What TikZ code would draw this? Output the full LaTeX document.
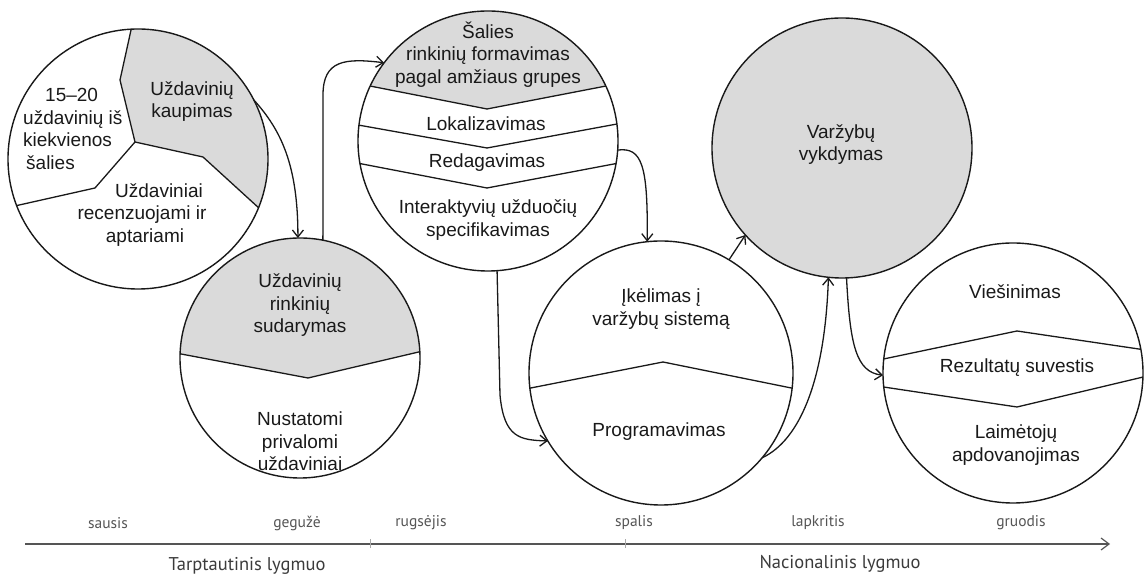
\documentclass[tikz,border=0pt]{standalone}
\usepackage{fontspec}
\setmainfont{Liberation Sans}
\newfontfamily\axisfont{PT Sans}
\usetikzlibrary{calc,arrows.meta}
\definecolor{fillgray}{RGB}{218,218,218}
\definecolor{inkc}{RGB}{25,25,25}
\definecolor{axisgray}{RGB}{85,85,85}
\begin{document}
\begin{tikzpicture}[x=1pt,y=1pt,
  ring/.style={circle, draw=inkc, line width=1.4pt, inner sep=0pt, outer sep=0pt, minimum size=#1},
  divider/.style={draw=inkc, line width=1.3pt, line join=round},
  lbl/.style={align=center, text=inkc, inner sep=0pt, font=\fontsize{19}{22.5}\selectfont},
  conn/.style={draw=inkc, line width=1.3pt, -{Straight Barb[length=7pt,width=11pt]}},
  month/.style={text=axisgray, inner sep=0pt, font=\axisfont\fontsize{15.5}{17}\selectfont},
  level/.style={text=inkc!85, inner sep=0pt, font=\axisfont\fontsize{18.5}{20}\selectfont},
  axisline/.style={draw=axisgray, line width=1.2pt, -{Straight Barb[length=8pt,width=12pt]}},
  tickmark/.style={draw=axisgray!50, line width=0.8pt}]

\useasboundingbox (0,0) rectangle (1144,580);

\coordinate (C1) at (138,421);
\coordinate (C2) at (300,222);
\coordinate (C3) at (488,439);
\coordinate (C4) at (661,207);
\coordinate (C5) at (842,432);
\coordinate (C6) at (1013,207);

% gray fills
\fill[fillgray] (135,438) -- (120,500) -- ($(C1)+(93:130)$) arc[start angle=93, end angle=-22, radius=130] -- (203,423) -- cycle;
\fill[fillgray] ($(C2)+(178:120)$) arc[start angle=178, end angle=3, radius=120] -- (308,202) -- cycle;
\fill[fillgray] ($(C3)+(155:130)$) arc[start angle=155, end angle=25, radius=130] -- (487,471) -- cycle;
\fill[fillgray] (C5) circle[radius=130];

% dividers
\draw[divider] ($(C1)+(93:130)$) -- (120,500) -- (135,438) -- (203,423) -- ($(C1)+(-22:130)$);
\draw[divider] (135,438) -- (95,392) -- ($(C1)+(201:130)$);
\draw[divider] ($(C2)+(178:120)$) -- (308,202) -- ($(C2)+(3:120)$);
\draw[divider] ($(C3)+(155:130)$) -- (487,471) -- ($(C3)+(25:130)$);
\draw[divider] ($(C3)+(173:130)$) -- (487,432) -- ($(C3)+(7.5:130)$);
\draw[divider] ($(C3)+(190:130)$) -- (487,392) -- ($(C3)+(-10:130)$);
\draw[divider] ($(C4)+(186.6:132)$) -- (663,218) -- ($(C4)+(-6.6:132)$);
\draw[divider] ($(C6)+(173.8:130)$) -- (1017,249) -- ($(C6)+(10.5:130)$);
\draw[divider] ($(C6)+(186.2:130)$) -- (1017,173) -- ($(C6)+(-1.8:130)$);

% circles
\node[ring=260pt] (c1) at (C1) {};
\node[ring=240pt] (c2) at (C2) {};
\node[ring=260pt] (c3) at (C3) {};
\node[ring=264pt] (c4) at (C4) {};
\node[ring=260pt] (c5) at (C5) {};
\node[ring=260pt] (c6) at (C6) {};

% texts
\node[lbl, align=left, anchor=west] (t1a) at (23,451) {\hspace*{22pt}15--20\\uždavinių iš\\kiekvienos\\\hspace*{3pt}šalies};
\node[lbl] (t1b) at (192,478.5) {Uždavinių\\kaupimas};
\node[lbl] (t1c) at (142,365) {\hspace*{34pt}Uždaviniai\\recenzuojami ir\\aptariami\hspace*{-6pt}};
\node[lbl] (t2a) at (300,274.5) {Uždavinių\\rinkinių\\sudarymas};
\node[lbl] (t2b) at (300,138.5) {Nustatomi\\privalomi\\uždaviniai};
\node[lbl] (t3a) at (488,525.5) {Šalies\\rinkinių formavimas\\pagal amžiaus grupes};
\node[lbl] (t3b) at (486,456) {Lokalizavimas};
\node[lbl] (t3c) at (487,417) {Redagavimas};
\node[lbl] (t3d) at (488,360) {Interaktyvių užduočių\\specifikavimas};
\node[lbl] (t4a) at (661,271) {Įkėlimas į\\varžybų sistemą};
\node[lbl] (t4b) at (659,148) {Programavimas};
\node[lbl] (t5) at (841,435.5) {Varžybų\\vykdymas};
\node[lbl] (t6a) at (1015,288) {Viešinimas};
\node[lbl] (t6b) at (1017,212) {Rezultatų suvestis};
\node[lbl] (t6c) at (1016,135) {Laimėtojų\\apdovanojimas};

% connectors
\draw[conn] (c1.27) .. controls (281,450) and (298,415) .. (c2.91);
\draw[conn] (c2.79) -- (323,485) .. controls (323,520) and (345,522) .. (c3.143);
\draw[conn] (c3.-4) .. controls (642,433) and (648,415) .. (c4.96);
\draw[conn] (c3.-86) -- (500,185) .. controls (504,142) and (520,140) .. (c4.211);
\draw[conn] (c4.59) -- (c5.222);
\draw[conn] (c4.-40) .. controls (800,140) and (825,200) .. (c5.-96);
\draw[conn] (c5.-88) .. controls (850,235) and (856,208) .. (c6.181);

% time axis
\coordinate (axs) at (25,36);
\coordinate (axe) at (1110,36);
\draw[axisline] (axs) -- (axe);
\coordinate (tk1a) at (370,32); \coordinate (tk1b) at (370,41);
\coordinate (tk2a) at (625,32); \coordinate (tk2b) at (625,41);
\draw[tickmark] (tk1a) -- (tk1b);
\draw[tickmark] (tk2a) -- (tk2b);

\node[month] (m1) at (108,57) {sausis};
\node[month] (m2) at (297,57) {gegužė};
\node[month] (m3) at (421,57) {rugsėjis};
\node[month] (m4) at (634,57) {spalis};
\node[month] (m5) at (818,57) {lapkritis};
\node[month] (m6) at (1021,57) {gruodis};
\node[level] (l1) at (247,14) {Tarptautinis lygmuo};
\node[level] (l2) at (840,16) {Nacionalinis lygmuo};
\end{tikzpicture}
\end{document}
